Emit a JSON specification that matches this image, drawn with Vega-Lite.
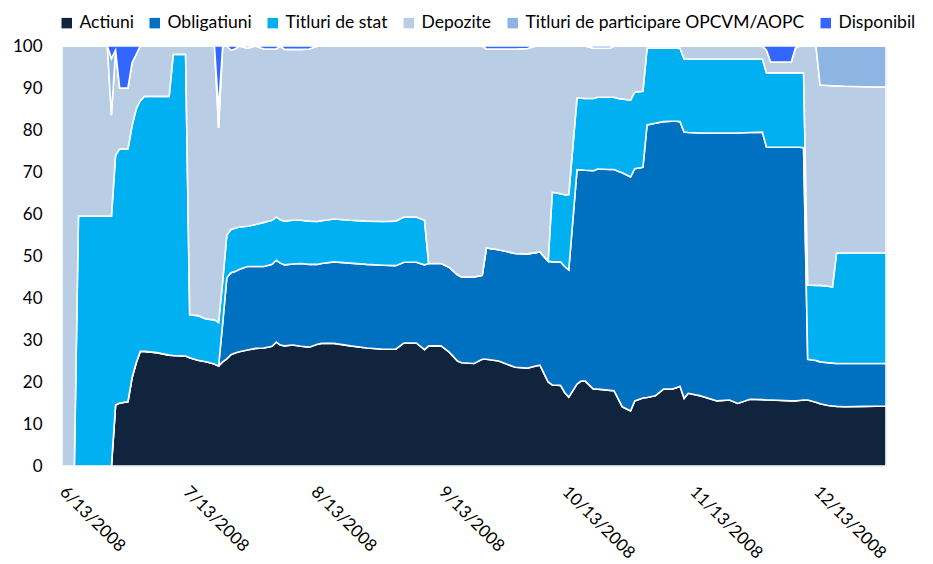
{
"$schema": "https://vega.github.io/schema/vega-lite/v6.json",
"width": 824, "height": 420,
"autosize": {"type": "none"},
"padding": {"left": 62, "top": 46, "right": 47, "bottom": 98},
"background": "white",
"config": {"view": {"stroke": "#B8B8B8", "strokeWidth": 1}, "font": "Lato"},
"data": {"values": [
{"d":"2008/06/13","Actiuni":0,"Obligatiuni":0,"Titluri de stat":0,"Depozite":100,"Titluri de participare OPCVM/AOPC":0,"Disponibil":0},
{"d":"2008/06/16","Actiuni":0,"Obligatiuni":0,"Titluri de stat":0,"Depozite":100,"Titluri de participare OPCVM/AOPC":0,"Disponibil":0},
{"d":"2008/06/17","Actiuni":0,"Obligatiuni":0,"Titluri de stat":59.5,"Depozite":40.5,"Titluri de participare OPCVM/AOPC":0,"Disponibil":0},
{"d":"2008/06/24","Actiuni":0,"Obligatiuni":0,"Titluri de stat":59.5,"Depozite":40.5,"Titluri de participare OPCVM/AOPC":0,"Disponibil":0},
{"d":"2008/06/25","Actiuni":0,"Obligatiuni":0,"Titluri de stat":59.5,"Depozite":24,"Titluri de participare OPCVM/AOPC":13.5,"Disponibil":3},
{"d":"2008/06/26","Actiuni":14.5,"Obligatiuni":0,"Titluri de stat":59.5,"Depozite":25,"Titluri de participare OPCVM/AOPC":0,"Disponibil":1},
{"d":"2008/06/27","Actiuni":15,"Obligatiuni":0,"Titluri de stat":60.5,"Depozite":14.5,"Titluri de participare OPCVM/AOPC":0,"Disponibil":10},
{"d":"2008/06/29","Actiuni":15.3,"Obligatiuni":0,"Titluri de stat":60.2,"Depozite":14.5,"Titluri de participare OPCVM/AOPC":0,"Disponibil":10},
{"d":"2008/06/30","Actiuni":21,"Obligatiuni":0,"Titluri de stat":60,"Depozite":15,"Titluri de participare OPCVM/AOPC":0,"Disponibil":4},
{"d":"2008/07/01","Actiuni":24.5,"Obligatiuni":0,"Titluri de stat":60.5,"Depozite":13,"Titluri de participare OPCVM/AOPC":0,"Disponibil":2},
{"d":"2008/07/02","Actiuni":27.3,"Obligatiuni":0,"Titluri de stat":59.7,"Depozite":13,"Titluri de participare OPCVM/AOPC":0,"Disponibil":0},
{"d":"2008/07/03","Actiuni":27.3,"Obligatiuni":0,"Titluri de stat":60.7,"Depozite":12,"Titluri de participare OPCVM/AOPC":0,"Disponibil":0},
{"d":"2008/07/06","Actiuni":27,"Obligatiuni":0,"Titluri de stat":61,"Depozite":12,"Titluri de participare OPCVM/AOPC":0,"Disponibil":0},
{"d":"2008/07/09","Actiuni":26.4,"Obligatiuni":0,"Titluri de stat":61.6,"Depozite":12,"Titluri de participare OPCVM/AOPC":0,"Disponibil":0},
{"d":"2008/07/10","Actiuni":26.3,"Obligatiuni":0,"Titluri de stat":71.7,"Depozite":2,"Titluri de participare OPCVM/AOPC":0,"Disponibil":0},
{"d":"2008/07/13","Actiuni":26.2,"Obligatiuni":0,"Titluri de stat":71.8,"Depozite":2,"Titluri de participare OPCVM/AOPC":0,"Disponibil":0},
{"d":"2008/07/14","Actiuni":25.8,"Obligatiuni":0,"Titluri de stat":10.2,"Depozite":64,"Titluri de participare OPCVM/AOPC":0,"Disponibil":0},
{"d":"2008/07/16","Actiuni":25.2,"Obligatiuni":0,"Titluri de stat":10.6,"Depozite":64.2,"Titluri de participare OPCVM/AOPC":0,"Disponibil":0},
{"d":"2008/07/18","Actiuni":24.8,"Obligatiuni":0,"Titluri de stat":10.2,"Depozite":65,"Titluri de participare OPCVM/AOPC":0,"Disponibil":0},
{"d":"2008/07/20","Actiuni":24.3,"Obligatiuni":0,"Titluri de stat":10.5,"Depozite":65.2,"Titluri de participare OPCVM/AOPC":0,"Disponibil":0},
{"d":"2008/07/21","Actiuni":23.8,"Obligatiuni":0,"Titluri de stat":10.4,"Depozite":46.3,"Titluri de participare OPCVM/AOPC":4.5,"Disponibil":15},
{"d":"2008/07/22","Actiuni":24.8,"Obligatiuni":9.2,"Titluri de stat":10,"Depozite":56,"Titluri de participare OPCVM/AOPC":0,"Disponibil":0},
{"d":"2008/07/23","Actiuni":25.5,"Obligatiuni":19.3,"Titluri de stat":10.2,"Depozite":45,"Titluri de participare OPCVM/AOPC":0,"Disponibil":0},
{"d":"2008/07/24","Actiuni":26.5,"Obligatiuni":19.5,"Titluri de stat":10.3,"Depozite":42.7,"Titluri de participare OPCVM/AOPC":0,"Disponibil":1},
{"d":"2008/07/25","Actiuni":26.9,"Obligatiuni":19.4,"Titluri de stat":10.3,"Depozite":42.7,"Titluri de participare OPCVM/AOPC":0,"Disponibil":0.7},
{"d":"2008/07/26","Actiuni":27.2,"Obligatiuni":19.6,"Titluri de stat":10.1,"Depozite":43.1,"Titluri de participare OPCVM/AOPC":0,"Disponibil":0},
{"d":"2008/07/28","Actiuni":27.6,"Obligatiuni":19.9,"Titluri de stat":9.6,"Depozite":42.4,"Titluri de participare OPCVM/AOPC":0,"Disponibil":0.5},
{"d":"2008/07/30","Actiuni":28,"Obligatiuni":19.5,"Titluri de stat":10,"Depozite":42.5,"Titluri de participare OPCVM/AOPC":0,"Disponibil":0},
{"d":"2008/08/01","Actiuni":28.1,"Obligatiuni":19.4,"Titluri de stat":10.5,"Depozite":41.3,"Titluri de participare OPCVM/AOPC":0,"Disponibil":0.7},
{"d":"2008/08/03","Actiuni":28.5,"Obligatiuni":19.5,"Titluri de stat":10.5,"Depozite":40.8,"Titluri de participare OPCVM/AOPC":0,"Disponibil":0.7},
{"d":"2008/08/04","Actiuni":29.5,"Obligatiuni":19.5,"Titluri de stat":10.3,"Depozite":40,"Titluri de participare OPCVM/AOPC":0,"Disponibil":0.7},
{"d":"2008/08/05","Actiuni":28.8,"Obligatiuni":19.5,"Titluri de stat":10.3,"Depozite":41.4,"Titluri de participare OPCVM/AOPC":0,"Disponibil":0},
{"d":"2008/08/06","Actiuni":28.6,"Obligatiuni":19.3,"Titluri de stat":10.4,"Depozite":40.9,"Titluri de participare OPCVM/AOPC":0,"Disponibil":0.8},
{"d":"2008/08/08","Actiuni":28.8,"Obligatiuni":19.3,"Titluri de stat":10.4,"Depozite":40.7,"Titluri de participare OPCVM/AOPC":0,"Disponibil":0.8},
{"d":"2008/08/10","Actiuni":28.5,"Obligatiuni":19.7,"Titluri de stat":10.3,"Depozite":40.7,"Titluri de participare OPCVM/AOPC":0,"Disponibil":0.8},
{"d":"2008/08/12","Actiuni":28.3,"Obligatiuni":19.7,"Titluri de stat":10.3,"Depozite":41,"Titluri de participare OPCVM/AOPC":0,"Disponibil":0.7},
{"d":"2008/08/14","Actiuni":29,"Obligatiuni":19,"Titluri de stat":10.2,"Depozite":41.8,"Titluri de participare OPCVM/AOPC":0,"Disponibil":0},
{"d":"2008/08/15","Actiuni":29.2,"Obligatiuni":19,"Titluri de stat":10.2,"Depozite":41.6,"Titluri de participare OPCVM/AOPC":0,"Disponibil":0},
{"d":"2008/08/18","Actiuni":29.2,"Obligatiuni":19.4,"Titluri de stat":10.2,"Depozite":41.2,"Titluri de participare OPCVM/AOPC":0,"Disponibil":0},
{"d":"2008/08/22","Actiuni":28.6,"Obligatiuni":19.7,"Titluri de stat":10.2,"Depozite":41.5,"Titluri de participare OPCVM/AOPC":0,"Disponibil":0},
{"d":"2008/08/26","Actiuni":28.1,"Obligatiuni":19.9,"Titluri de stat":10.3,"Depozite":41.7,"Titluri de participare OPCVM/AOPC":0,"Disponibil":0},
{"d":"2008/08/30","Actiuni":27.8,"Obligatiuni":20,"Titluri de stat":10.4,"Depozite":41.8,"Titluri de participare OPCVM/AOPC":0,"Disponibil":0},
{"d":"2008/09/02","Actiuni":27.8,"Obligatiuni":19.9,"Titluri de stat":10.6,"Depozite":41.7,"Titluri de participare OPCVM/AOPC":0,"Disponibil":0},
{"d":"2008/09/04","Actiuni":29.3,"Obligatiuni":19.2,"Titluri de stat":10.8,"Depozite":40.7,"Titluri de participare OPCVM/AOPC":0,"Disponibil":0},
{"d":"2008/09/07","Actiuni":29.3,"Obligatiuni":19.2,"Titluri de stat":10.8,"Depozite":40.7,"Titluri de participare OPCVM/AOPC":0,"Disponibil":0},
{"d":"2008/09/09","Actiuni":27.7,"Obligatiuni":20.2,"Titluri de stat":10.6,"Depozite":41.5,"Titluri de participare OPCVM/AOPC":0,"Disponibil":0},
{"d":"2008/09/10","Actiuni":28.6,"Obligatiuni":19.6,"Titluri de stat":0,"Depozite":51.8,"Titluri de participare OPCVM/AOPC":0,"Disponibil":0},
{"d":"2008/09/13","Actiuni":28.6,"Obligatiuni":19.6,"Titluri de stat":0,"Depozite":51.8,"Titluri de participare OPCVM/AOPC":0,"Disponibil":0},
{"d":"2008/09/15","Actiuni":27.1,"Obligatiuni":20.2,"Titluri de stat":0,"Depozite":52.7,"Titluri de participare OPCVM/AOPC":0,"Disponibil":0},
{"d":"2008/09/17","Actiuni":25,"Obligatiuni":20.5,"Titluri de stat":0,"Depozite":54.5,"Titluri de participare OPCVM/AOPC":0,"Disponibil":0},
{"d":"2008/09/18","Actiuni":24.6,"Obligatiuni":20.4,"Titluri de stat":0,"Depozite":55,"Titluri de participare OPCVM/AOPC":0,"Disponibil":0},
{"d":"2008/09/21","Actiuni":24.4,"Obligatiuni":20.6,"Titluri de stat":0,"Depozite":55,"Titluri de participare OPCVM/AOPC":0,"Disponibil":0},
{"d":"2008/09/23","Actiuni":25.4,"Obligatiuni":20,"Titluri de stat":0,"Depozite":54.6,"Titluri de participare OPCVM/AOPC":0,"Disponibil":0},
{"d":"2008/09/24","Actiuni":25.4,"Obligatiuni":26.5,"Titluri de stat":0,"Depozite":47.4,"Titluri de participare OPCVM/AOPC":0,"Disponibil":0.7},
{"d":"2008/09/27","Actiuni":25,"Obligatiuni":26.5,"Titluri de stat":0,"Depozite":47.8,"Titluri de participare OPCVM/AOPC":0,"Disponibil":0.7},
{"d":"2008/10/01","Actiuni":23.5,"Obligatiuni":27.1,"Titluri de stat":0,"Depozite":48.7,"Titluri de participare OPCVM/AOPC":0,"Disponibil":0.7},
{"d":"2008/10/04","Actiuni":23.3,"Obligatiuni":27.2,"Titluri de stat":0,"Depozite":48.9,"Titluri de participare OPCVM/AOPC":0,"Disponibil":0.6},
{"d":"2008/10/06","Actiuni":23.8,"Obligatiuni":27,"Titluri de stat":0,"Depozite":49.2,"Titluri de participare OPCVM/AOPC":0,"Disponibil":0},
{"d":"2008/10/07","Actiuni":24,"Obligatiuni":27,"Titluri de stat":0,"Depozite":49,"Titluri de participare OPCVM/AOPC":0,"Disponibil":0},
{"d":"2008/10/08","Actiuni":22,"Obligatiuni":27.8,"Titluri de stat":0,"Depozite":50.2,"Titluri de participare OPCVM/AOPC":0,"Disponibil":0},
{"d":"2008/10/09","Actiuni":20,"Obligatiuni":28.8,"Titluri de stat":0,"Depozite":51.2,"Titluri de participare OPCVM/AOPC":0,"Disponibil":0},
{"d":"2008/10/10","Actiuni":19.3,"Obligatiuni":29.3,"Titluri de stat":16.6,"Depozite":34.8,"Titluri de participare OPCVM/AOPC":0,"Disponibil":0},
{"d":"2008/10/12","Actiuni":19.2,"Obligatiuni":29.4,"Titluri de stat":16.2,"Depozite":35.2,"Titluri de participare OPCVM/AOPC":0,"Disponibil":0},
{"d":"2008/10/13","Actiuni":17.5,"Obligatiuni":30,"Titluri de stat":17.1,"Depozite":35.4,"Titluri de participare OPCVM/AOPC":0,"Disponibil":0},
{"d":"2008/10/14","Actiuni":16.4,"Obligatiuni":30.3,"Titluri de stat":17.9,"Depozite":35.4,"Titluri de participare OPCVM/AOPC":0,"Disponibil":0},
{"d":"2008/10/16","Actiuni":19.5,"Obligatiuni":51,"Titluri de stat":17.1,"Depozite":12.4,"Titluri de participare OPCVM/AOPC":0,"Disponibil":0},
{"d":"2008/10/17","Actiuni":20.2,"Obligatiuni":50.3,"Titluri de stat":17.1,"Depozite":12.4,"Titluri de participare OPCVM/AOPC":0,"Disponibil":0},
{"d":"2008/10/18","Actiuni":20.2,"Obligatiuni":50.2,"Titluri de stat":17.1,"Depozite":12.5,"Titluri de participare OPCVM/AOPC":0,"Disponibil":0},
{"d":"2008/10/20","Actiuni":18.3,"Obligatiuni":52,"Titluri de stat":17.2,"Depozite":12,"Titluri de participare OPCVM/AOPC":0,"Disponibil":0.5},
{"d":"2008/10/21","Actiuni":18.3,"Obligatiuni":52.4,"Titluri de stat":17.1,"Depozite":11.7,"Titluri de participare OPCVM/AOPC":0,"Disponibil":0.5},
{"d":"2008/10/24","Actiuni":18,"Obligatiuni":52.6,"Titluri de stat":17.2,"Depozite":11.7,"Titluri de participare OPCVM/AOPC":0,"Disponibil":0.5},
{"d":"2008/10/25","Actiuni":17.9,"Obligatiuni":52.7,"Titluri de stat":17.2,"Depozite":12.2,"Titluri de participare OPCVM/AOPC":0,"Disponibil":0},
{"d":"2008/10/26","Actiuni":16,"Obligatiuni":54.2,"Titluri de stat":17.3,"Depozite":12.5,"Titluri de participare OPCVM/AOPC":0,"Disponibil":0},
{"d":"2008/10/27","Actiuni":14.1,"Obligatiuni":55.7,"Titluri de stat":17.6,"Depozite":12.6,"Titluri de participare OPCVM/AOPC":0,"Disponibil":0},
{"d":"2008/10/29","Actiuni":13.1,"Obligatiuni":55.7,"Titluri de stat":18.3,"Depozite":12.9,"Titluri de participare OPCVM/AOPC":0,"Disponibil":0},
{"d":"2008/10/30","Actiuni":15.5,"Obligatiuni":55.3,"Titluri de stat":18.2,"Depozite":11,"Titluri de participare OPCVM/AOPC":0,"Disponibil":0},
{"d":"2008/11/01","Actiuni":16.2,"Obligatiuni":54.9,"Titluri de stat":18.1,"Depozite":10.8,"Titluri de participare OPCVM/AOPC":0,"Disponibil":0},
{"d":"2008/11/02","Actiuni":16.3,"Obligatiuni":64.9,"Titluri de stat":18.3,"Depozite":0.5,"Titluri de participare OPCVM/AOPC":0,"Disponibil":0},
{"d":"2008/11/04","Actiuni":16.7,"Obligatiuni":64.9,"Titluri de stat":17.9,"Depozite":0.5,"Titluri de participare OPCVM/AOPC":0,"Disponibil":0},
{"d":"2008/11/06","Actiuni":18.3,"Obligatiuni":63.7,"Titluri de stat":17.5,"Depozite":0.5,"Titluri de participare OPCVM/AOPC":0,"Disponibil":0},
{"d":"2008/11/08","Actiuni":18.3,"Obligatiuni":63.8,"Titluri de stat":17.4,"Depozite":0.5,"Titluri de participare OPCVM/AOPC":0,"Disponibil":0},
{"d":"2008/11/09","Actiuni":18.6,"Obligatiuni":63.5,"Titluri de stat":17.4,"Depozite":0.5,"Titluri de participare OPCVM/AOPC":0,"Disponibil":0},
{"d":"2008/11/10","Actiuni":19,"Obligatiuni":63,"Titluri de stat":17.5,"Depozite":0.5,"Titluri de participare OPCVM/AOPC":0,"Disponibil":0},
{"d":"2008/11/11","Actiuni":16.1,"Obligatiuni":63.4,"Titluri de stat":17.4,"Depozite":3.1,"Titluri de participare OPCVM/AOPC":0,"Disponibil":0},
{"d":"2008/11/12","Actiuni":17.3,"Obligatiuni":62.1,"Titluri de stat":17.5,"Depozite":3.1,"Titluri de participare OPCVM/AOPC":0,"Disponibil":0},
{"d":"2008/11/15","Actiuni":16.7,"Obligatiuni":62.6,"Titluri de stat":17.6,"Depozite":3.1,"Titluri de participare OPCVM/AOPC":0,"Disponibil":0},
{"d":"2008/11/19","Actiuni":15.5,"Obligatiuni":63.8,"Titluri de stat":17.6,"Depozite":3.1,"Titluri de participare OPCVM/AOPC":0,"Disponibil":0},
{"d":"2008/11/22","Actiuni":15.7,"Obligatiuni":63.6,"Titluri de stat":17.6,"Depozite":3.1,"Titluri de participare OPCVM/AOPC":0,"Disponibil":0},
{"d":"2008/11/24","Actiuni":14.9,"Obligatiuni":64.4,"Titluri de stat":17.6,"Depozite":3.1,"Titluri de participare OPCVM/AOPC":0,"Disponibil":0},
{"d":"2008/11/27","Actiuni":15.9,"Obligatiuni":63.5,"Titluri de stat":17.5,"Depozite":3.1,"Titluri de participare OPCVM/AOPC":0,"Disponibil":0},
{"d":"2008/11/30","Actiuni":15.8,"Obligatiuni":63.7,"Titluri de stat":17.4,"Depozite":3.1,"Titluri de participare OPCVM/AOPC":0,"Disponibil":0},
{"d":"2008/12/01","Actiuni":15.7,"Obligatiuni":60.2,"Titluri de stat":17.7,"Depozite":5.4,"Titluri de participare OPCVM/AOPC":0,"Disponibil":1},
{"d":"2008/12/02","Actiuni":15.7,"Obligatiuni":60.2,"Titluri de stat":17.7,"Depozite":2.6,"Titluri de participare OPCVM/AOPC":0,"Disponibil":3.8},
{"d":"2008/12/07","Actiuni":15.5,"Obligatiuni":60.4,"Titluri de stat":17.7,"Depozite":2.6,"Titluri de participare OPCVM/AOPC":0,"Disponibil":3.8},
{"d":"2008/12/08","Actiuni":15.5,"Obligatiuni":60.4,"Titluri de stat":17.7,"Depozite":5.9,"Titluri de participare OPCVM/AOPC":0,"Disponibil":0.5},
{"d":"2008/12/09","Actiuni":15.6,"Obligatiuni":60.3,"Titluri de stat":17.7,"Depozite":6.4,"Titluri de participare OPCVM/AOPC":0,"Disponibil":0},
{"d":"2008/12/10","Actiuni":15.7,"Obligatiuni":60.1,"Titluri de stat":17.8,"Depozite":6.4,"Titluri de participare OPCVM/AOPC":0,"Disponibil":0},
{"d":"2008/12/11","Actiuni":15.7,"Obligatiuni":9.7,"Titluri de stat":17.7,"Depozite":56.9,"Titluri de participare OPCVM/AOPC":0,"Disponibil":0},
{"d":"2008/12/13","Actiuni":15.2,"Obligatiuni":9.9,"Titluri de stat":17.9,"Depozite":57,"Titluri de participare OPCVM/AOPC":0,"Disponibil":0},
{"d":"2008/12/14","Actiuni":14.8,"Obligatiuni":10,"Titluri de stat":18.2,"Depozite":47.7,"Titluri de participare OPCVM/AOPC":9.3,"Disponibil":0},
{"d":"2008/12/16","Actiuni":14.4,"Obligatiuni":10.2,"Titluri de stat":18.2,"Depozite":47.8,"Titluri de participare OPCVM/AOPC":9.4,"Disponibil":0},
{"d":"2008/12/17","Actiuni":14.3,"Obligatiuni":10.2,"Titluri de stat":18.1,"Depozite":47.9,"Titluri de participare OPCVM/AOPC":9.5,"Disponibil":0},
{"d":"2008/12/18","Actiuni":14.2,"Obligatiuni":10.2,"Titluri de stat":26.3,"Depozite":39.8,"Titluri de participare OPCVM/AOPC":9.5,"Disponibil":0},
{"d":"2008/12/20","Actiuni":14.1,"Obligatiuni":10.3,"Titluri de stat":26.3,"Depozite":39.7,"Titluri de participare OPCVM/AOPC":9.6,"Disponibil":0},
{"d":"2008/12/25","Actiuni":14.2,"Obligatiuni":10.2,"Titluri de stat":26.3,"Depozite":39.6,"Titluri de participare OPCVM/AOPC":9.7,"Disponibil":0},
{"d":"2008/12/30","Actiuni":14.3,"Obligatiuni":10.1,"Titluri de stat":26.3,"Depozite":39.5,"Titluri de participare OPCVM/AOPC":9.8,"Disponibil":0}
]},
"transform": [
  {"fold": ["Actiuni","Obligatiuni","Titluri de stat","Depozite","Titluri de participare OPCVM/AOPC","Disponibil"], "as": ["cat","v"]},
  {"calculate": "indexof(['Actiuni','Obligatiuni','Titluri de stat','Depozite','Titluri de participare OPCVM/AOPC','Disponibil'], datum.cat)", "as": "ord"}
],
"mark": {"type": "area", "stroke": "white", "strokeWidth": 1.6, "interpolate": "linear"},
"encoding": {
  "x": {"field": "d", "type": "temporal",
    "scale": {"domain": [{"year":2008,"month":6,"date":13},{"year":2008,"month":12,"date":30}]},
    "axis": {"title": null, "values": [{"year":2008,"month":6,"date":13},{"year":2008,"month":7,"date":13},{"year":2008,"month":8,"date":13},{"year":2008,"month":9,"date":13},{"year":2008,"month":10,"date":13},{"year":2008,"month":11,"date":13},{"year":2008,"month":12,"date":13}],
      "format": "%-m/%-d/%Y", "labelAngle": 45, "labelAlign": "left", "labelBaseline": "middle", "labelPadding": 23,
      "ticks": false, "tickSize": 0, "domain": false, "grid": false, "labelFontSize": 17, "labelColor": "#000000", "labelOverlap": false, "labelFlush": false}},
  "y": {"field": "v", "type": "quantitative", "stack": "zero",
    "scale": {"domain": [0, 100], "nice": false},
    "axis": {"title": null, "values": [0,10,20,30,40,50,60,70,80,90,100], "ticks": false, "tickSize": 0, "domain": false, "grid": false, "labelFontSize": 17, "labelPadding": 20, "labelColor": "#000000"}},
  "color": {"field": "cat", "type": "nominal",
    "scale": {"domain": ["Actiuni","Obligatiuni","Titluri de stat","Depozite","Titluri de participare OPCVM/AOPC","Disponibil"],
              "range": ["#10243E","#0070C0","#00B0F0","#B9CDE5","#8EB4E3","#3366FF"]},
    "legend": {"title": null, "orient": "none", "legendX": -4, "legendY": -32, "direction": "horizontal", "columns": 6,
      "symbolType": "square", "symbolSize": 110, "symbolStrokeWidth": 0, "labelFontSize": 17.5, "labelColor": "#000000",
      "labelLimit": 0, "columnPadding": 12, "labelOffset": 4}},
  "order": {"field": "ord", "type": "quantitative"}
}
}
